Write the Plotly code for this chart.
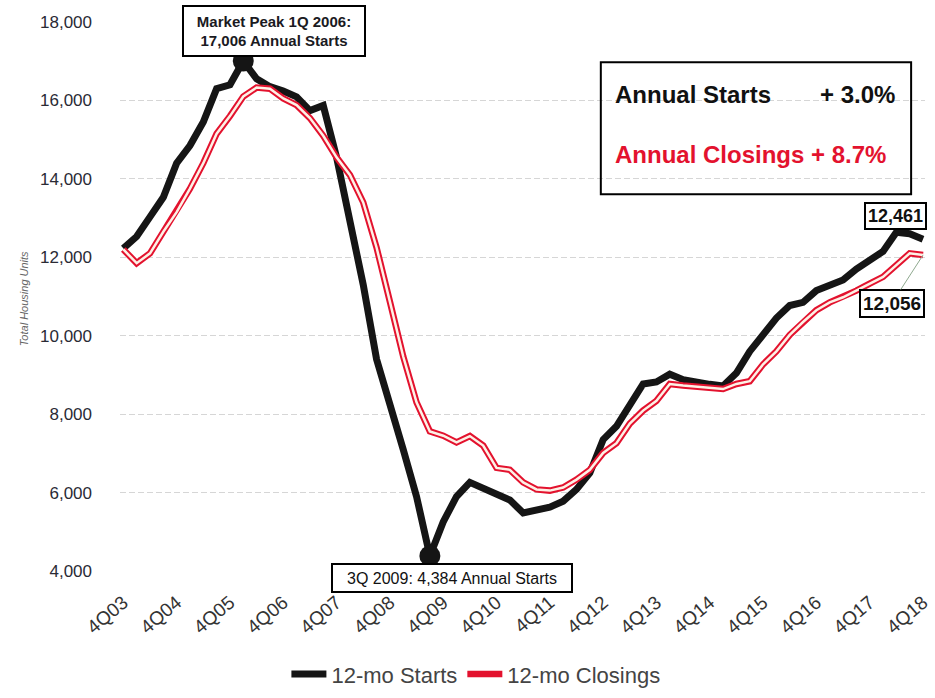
import plotly.graph_objects as go

# Quarterly periods, 4Q03 through 4Q18
periods = ["4Q03"] + [f"{q}Q{yy:02d}" for yy in range(4, 19) for q in (1, 2, 3, 4)]
tick_labels = ["4Q03", "4Q04", "4Q05", "4Q06", "4Q07", "4Q08", "4Q09", "4Q10",
               "4Q11", "4Q12", "4Q13", "4Q14", "4Q15", "4Q16", "4Q17", "4Q18"]

# 12-month rolling totals (housing units)
starts_12mo = [
    12230, 12530, 13030, 13530, 14400, 14850, 15450, 16300, 16400, 17006,
    16550, 16350, 16240, 16090, 15740, 15870, 14550, 12960, 11300, 9400,
    8300, 7100, 5900, 4384, 5250, 5900, 6260, 6100, 5950, 5810,
    5480, 5560, 5630, 5780, 6080, 6500, 7350, 7690, 8270, 8770,
    8820, 9020, 8880, 8800, 8760, 8720, 9050, 9600, 10000, 10450,
    10770, 10850, 11150, 11300, 11420, 11700, 11950, 12150, 12640, 12600,
    12461,
]
closings_12mo = [
    12200, 11850, 12100, 12650, 13150, 13750, 14400, 15150, 15600, 16100,
    16330, 16300, 16050, 15880, 15550, 15100, 14550, 14100, 13400, 12250,
    10870, 9470, 8300, 7560, 7450, 7280, 7440, 7200, 6630, 6580,
    6260, 6080, 6050, 6130, 6330, 6580, 7010, 7260, 7760, 8090,
    8340, 8770, 8730, 8700, 8660, 8640, 8770, 8840, 9270, 9600,
    10020, 10350, 10650, 10850, 10980, 11150, 11330, 11500, 11800, 12100,
    12056,
]

peak_period, trough_period = "1Q06", "3Q09"
peak_value = starts_12mo[periods.index(peak_period)]
trough_value = starts_12mo[periods.index(trough_period)]

yoy_labels = ["Annual Starts", "Annual Closings"]
yoy_changes = ["+ 3.0%", "+ 8.7%"]

W, H = 935, 698
ML, MR, MT, MB = 120, 3, 22, 118
PW, PH = W - ML - MR, H - MT - MB


def px_x(px):
    return (px - ML) / PW


def px_y(py):
    return (H - MB - py) / PH


FONT = "Liberation Sans, Arial, Helvetica, sans-serif"
RED = "#e3122e"
BLACK = "#151515"

fig = go.Figure()

fig.add_trace(go.Scatter(
    x=periods, y=starts_12mo, mode="lines", name="12-mo Starts",
    line=dict(color=BLACK, width=7), hoverinfo="x+y",
))
fig.add_trace(go.Scatter(
    x=periods, y=closings_12mo, mode="lines", name="12-mo Closings",
    line=dict(color=RED, width=6.5), legendgroup="closings",
))
# pale core gives the closings line its double-stroke look
fig.add_trace(go.Scatter(
    x=periods, y=closings_12mo, mode="lines", showlegend=False,
    line=dict(color="#fdf1e6", width=2.5), legendgroup="closings", hoverinfo="skip",
))
fig.add_trace(go.Scatter(
    x=[peak_period, trough_period], y=[peak_value, trough_value], mode="markers",
    marker=dict(color=BLACK, size=21), showlegend=False,
))

annotations = [
    dict(x=peak_period, y=peak_value, xref="x", yref="y", showarrow=False,
         text=f"Market Peak {peak_period[:2]} 2006:<br>{peak_value:,} Annual Starts",
         xanchor="center", yanchor="bottom", xshift=31, yshift=4,
         font=dict(family=FONT, size=15, color="#1a1a22", weight="bold"),
         bgcolor="white", bordercolor="black", borderwidth=2, borderpad=4,
         width=172, height=40),
    dict(x=trough_period, y=trough_value, xref="x", yref="y", showarrow=False,
         text=f"{trough_period[:2]} 2009: {trough_value:,} Annual Starts",
         xanchor="center", yanchor="top", xshift=22, yshift=-7,
         font=dict(family=FONT, size=16, color="#111111"),
         bgcolor="white", bordercolor="black", borderwidth=2, borderpad=3,
         width=232, height=20),
    dict(x=px_x(934), y=px_y(219), xref="paper", yref="paper", showarrow=False,
         text=f"{starts_12mo[-1]:,}", xanchor="right", yanchor="middle",
         font=dict(family=FONT, size=18, color="#111111", weight="bold"),
         bgcolor="white", bordercolor="black", borderwidth=2, borderpad=2),
    dict(x=periods[-1], y=closings_12mo[-1], xref="x", yref="y", showarrow=True,
         ax=-31, ay=48, arrowhead=0, arrowwidth=1, arrowcolor="#8fa98f",
         text=f"{closings_12mo[-1]:,}",
         font=dict(family=FONT, size=19, color="#111111", weight="bold"),
         bgcolor="white", bordercolor="black", borderwidth=2, borderpad=2),
    dict(x=px_x(617), y=px_y(96), xref="paper", yref="paper", showarrow=False,
         text=yoy_labels[0], xanchor="left", yanchor="middle",
         font=dict(family=FONT, size=24, color="#111111", weight="bold")),
    dict(x=px_x(904), y=px_y(96), xref="paper", yref="paper", showarrow=False,
         text=yoy_changes[0], xanchor="right", yanchor="middle",
         font=dict(family=FONT, size=24, color="#111111", weight="bold")),
    dict(x=px_x(617), y=px_y(157), xref="paper", yref="paper", showarrow=False,
         text=f"{yoy_labels[1]} {yoy_changes[1]}", xanchor="left", yanchor="middle",
         font=dict(family=FONT, size=24, color=RED, weight="bold")),
    dict(x=px_x(16), y=px_y(303), xref="paper", yref="paper", showarrow=False,
         text="Total Housing Units", textangle=-90,
         font=dict(family=FONT, size=11, color="#666666", style="italic")),
]

shapes = [
    dict(type="rect", xref="paper", yref="paper",
         x0=px_x(605), x1=px_x(918), y0=px_y(197), y1=px_y(63),
         line=dict(color="black", width=2), fillcolor="rgba(0,0,0,0)"),
]

fig.update_layout(
    width=W, height=H,
    margin=dict(l=ML, r=MR, t=MT, b=MB),
    paper_bgcolor="white", plot_bgcolor="white",
    font=dict(family=FONT, color="#333333"),
    showlegend=True,
    legend=dict(orientation="h", x=px_x(479), xanchor="center",
                y=px_y(685), yanchor="middle",
                font=dict(family=FONT, size=22, color="#444444"),
                itemwidth=35, traceorder="normal"),
    annotations=annotations,
    shapes=shapes,
)

fig.update_xaxes(
    type="category", categoryorder="array", categoryarray=periods,
    tickmode="array", tickvals=tick_labels, ticktext=tick_labels,
    tickangle=-40, tickfont=dict(family=FONT, size=19, color="#333333"),
    range=[-0.25, len(periods) - 0.85],
    showgrid=False, showline=False, zeroline=False, ticks="",
    ticklabelstandoff=16,
)
fig.update_yaxes(
    range=[4000, 18000], dtick=2000, tickformat=",",
    showgrid=True, gridcolor="#d6d6d6", gridwidth=1, griddash="6px,3px",
    zeroline=False, showline=False, ticks="",
    tickfont=dict(family=FONT, size=17, color="#2a2a35"),
    ticklabelstandoff=27,
)

fig.write_html("out.html")
